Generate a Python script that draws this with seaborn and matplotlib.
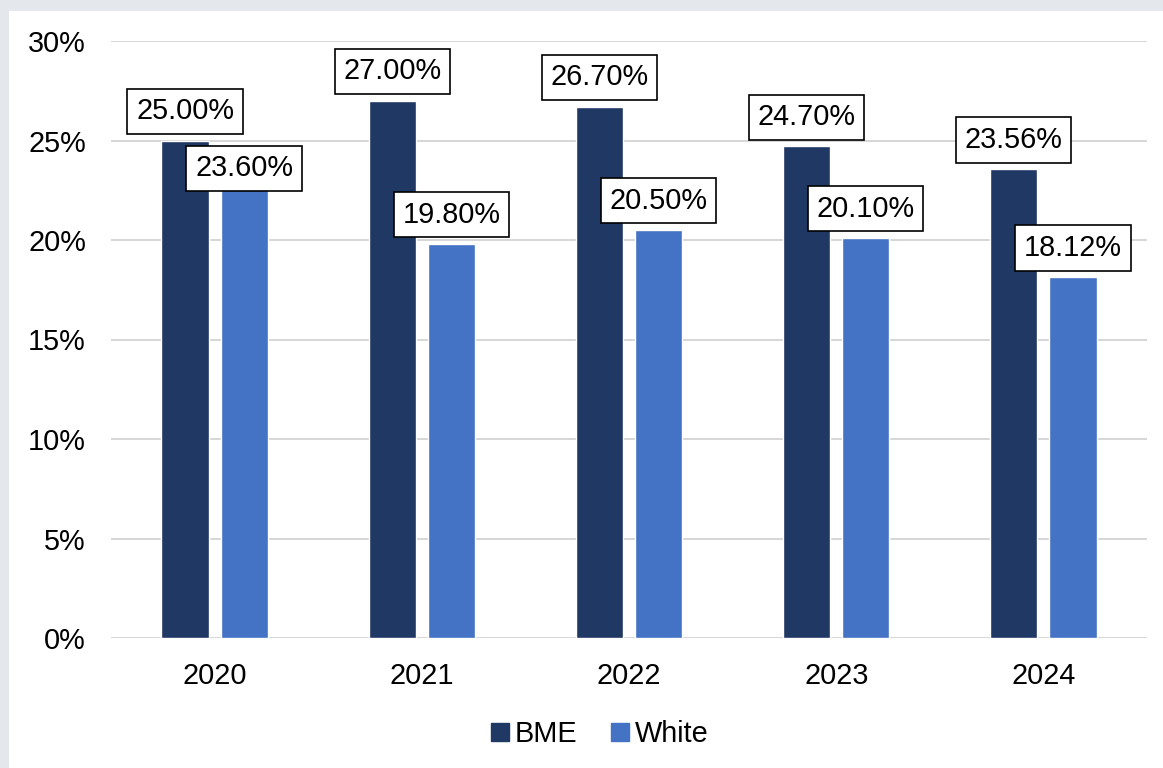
import matplotlib
matplotlib.use("Agg")
import matplotlib.pyplot as plt
import seaborn as sns
import pandas as pd
from matplotlib.lines import Line2D
from matplotlib.patches import Rectangle
from matplotlib.ticker import FuncFormatter

years = ["2020", "2021", "2022", "2023", "2024"]
bme = [25.00, 27.00, 26.70, 24.70, 23.56]
white = [23.60, 19.80, 20.50, 20.10, 18.12]
groups = ["BME", "White"]
colors = {"BME": "#203864", "White": "#4472C4"}

df = pd.DataFrame({
    "year": years * 2,
    "value": bme + white,
    "group": ["BME"] * len(years) + ["White"] * len(years),
})

sns.set_theme(style="white")
plt.rcParams["font.family"] = ["Liberation Sans", "DejaVu Sans"]
plt.rcParams["text.color"] = "black"

fig = plt.figure(figsize=(11.63, 7.68), dpi=100)
fig.patch.set_facecolor("#E4E8EC")
fig.patches.append(Rectangle((9 / 1163, 0), 1, 1 - 11 / 768, transform=fig.transFigure,
                             facecolor="white", edgecolor="none", zorder=-10))

ax = fig.add_axes([111 / 1163, 1 - 638 / 768, (1147 - 111) / 1163, (638 - 41) / 768])
ax.set_zorder(1)
ax.set_facecolor("none")

sns.barplot(data=df, x="year", y="value", hue="group", palette=colors,
            width=0.57, gap=0.2, saturation=1, ax=ax, legend=False, zorder=3)

ax.set_xlim(-0.5, 4.5)
ax.set_ylim(0, 30)
ax.set_yticks([0, 5, 10, 15, 20, 25, 30])
ax.yaxis.set_major_formatter(FuncFormatter(lambda v, p: f"{v:.0f}%"))
ax.grid(axis="y", color="#D6D6D6", linewidth=1.4, zorder=0)
ax.set_axisbelow(True)
for s in ax.spines.values():
    s.set_visible(False)
ax.tick_params(axis="y", length=0, pad=18, labelsize=20.8, labelcolor="black")
ax.tick_params(axis="x", length=0, pad=17.5, labelsize=20.8, labelcolor="black")
ax.set_xlabel("")
ax.set_ylabel("")

# data labels
centered = {("2020", "White")}
for gname, cont in zip(groups, ax.containers):
    for yr, bar in zip(years, cont):
        h = bar.get_height()
        xc = bar.get_x() + bar.get_width() / 2
        if (yr, gname) in centered:
            va, off = "center", 0
        else:
            va, off = "bottom", 11
        ax.annotate(f"{h:.2f}%", (xc, h), xytext=(0, off), textcoords="offset points",
                    ha="center", va=va, fontsize=20.8, color="black", zorder=5,
                    bbox=dict(boxstyle="square,pad=0.3", facecolor="white",
                              edgecolor="black", linewidth=1.2))

handles = [Line2D([], [], marker="s", linestyle="none", markersize=12.5,
                  markerfacecolor=colors[g], markeredgecolor=colors[g], label=g)
           for g in groups]
leg = fig.legend(handles=handles, loc="center", bbox_to_anchor=(597 / 1163, 1 - 734 / 768),
                 ncol=2, frameon=False, fontsize=20.8, handletextpad=0.0,
                 columnspacing=1.0, handlelength=1.0)
for t in leg.get_texts():
    t.set_color("black")

fig.savefig("out.png", dpi=100, facecolor=fig.get_facecolor())
